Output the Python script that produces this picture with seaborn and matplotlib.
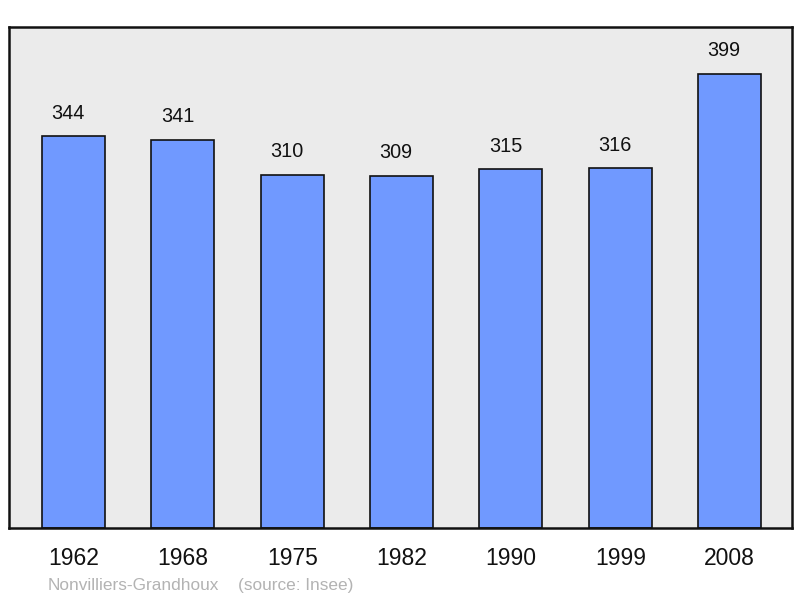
import matplotlib
matplotlib.use("Agg")
import matplotlib.pyplot as plt
import seaborn as sns
import pandas as pd

years = ["1962", "1968", "1975", "1982", "1990", "1999", "2008"]
population = [344, 341, 310, 309, 315, 316, 399]
commune = "Nonvilliers-Grandhoux"
source = "(source: Insee)"

df = pd.DataFrame({"year": years, "pop": population})

sns.set_style("white")
plt.rcParams["font.family"] = ["Liberation Sans", "DejaVu Sans"]

fig = plt.figure(figsize=(8, 5.98), dpi=100)
ax = fig.add_axes([9 / 800, 1 - 528 / 598, 783 / 800, 501 / 598])
ax.set_facecolor("#ebebeb")

sns.barplot(data=df, x="year", y="pop", color="#7099ff", saturation=1,
            width=0.576, edgecolor="#111111", linewidth=1.2, ax=ax)

# value labels sit a touch left of the bar centres, as in the original
for i, v in enumerate(population):
    ax.text(i - 0.05, v + 12, str(v), ha="center", va="bottom",
            fontsize=14.3, color="#111111")

ax.set_xlim(-0.59, 6.57)
ax.set_ylim(0, 440)
ax.set_yticks([])
ax.set_xlabel("")
ax.set_ylabel("")
ax.tick_params(axis="x", length=0, labelsize=16.5, pad=14, colors="#111111")
for s in ax.spines.values():
    s.set_visible(True)
    s.set_color("#111111")
    s.set_linewidth(1.8)

# footer: commune name and source on a shared baseline
fig.text(48 / 800, 1 - 590 / 598, commune, fontsize=12.4,
         color="#b3b3b3", va="baseline", ha="left")
fig.text(238 / 800, 1 - 590 / 598, source, fontsize=12.4,
         color="#b3b3b3", va="baseline", ha="left")

fig.savefig("out.png", dpi=100)
